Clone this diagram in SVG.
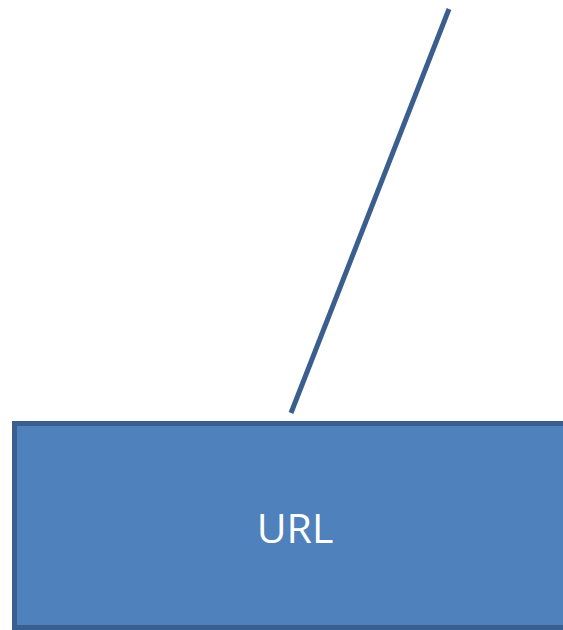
<svg xmlns="http://www.w3.org/2000/svg" width="563" height="630" viewBox="0 0 563 630">
<style>
.node rect{fill:#4F81BD;stroke:#3A5F8F;stroke-width:5}
.node text{fill:#FFFFFF;font-family:"Open Sans","Liberation Sans",sans-serif;font-size:41px;text-anchor:middle}
.conn line{stroke:#3A5F8F;stroke-width:5}
</style>
<rect width="563" height="630" fill="#FFFFFF"/>
<g id="connectors" class="conn">
<line x1="449" y1="9" x2="291" y2="413"/>
</g>
<g id="url" class="node">
<rect x="14.5" y="423.5" width="580" height="204"/>
<text x="295" y="543">URL</text>
</g>
</svg>
